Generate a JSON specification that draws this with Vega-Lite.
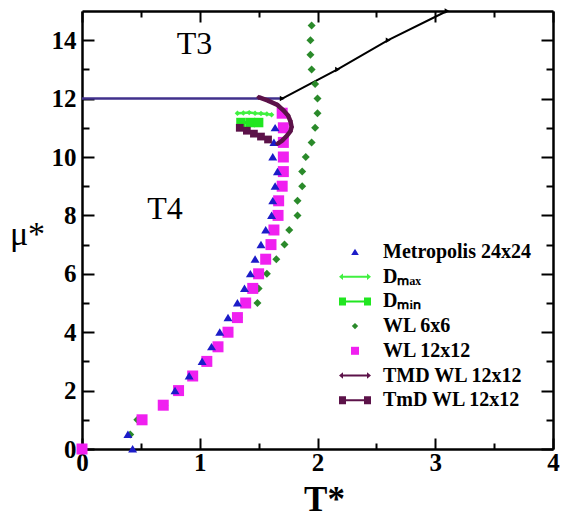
{
  "$schema": "https://vega.github.io/schema/vega-lite/v6.json",
  "width": 471,
  "height": 438,
  "autosize": {"type": "none"},
  "padding": {"left": 82, "top": 11, "right": 8, "bottom": 71},
  "background": "white",
  "config": {
    "view": {"stroke": null},
    "legend": {
      "orient": "none",
      "legendX": 263,
      "legendY": 231,
      "title": null,
      "padding": 0,
      "labelFont": "Liberation Serif",
      "labelFontWeight": "bold",
      "labelFontSize": 20,
      "labelColor": "black",
      "labelOffset": 18,
      "symbolSize": 400,
      "symbolStrokeWidth": 0,
      "symbolOpacity": 1,
      "rowPadding": 4.7,
      "labelLimit": 300
    }
  },
  "datasets": {
    "pts": [
      {"s": "hline", "k": 0, "T": 0, "mu": 12},
      {"s": "hline", "k": 1, "T": 1.71, "mu": 12},
      {"s": "black", "k": 0, "T": 1.70, "mu": 12.0},
      {"s": "black", "k": 1, "T": 2.17, "mu": 13.0},
      {"s": "black", "k": 2, "T": 2.60, "mu": 14.0},
      {"s": "black", "k": 3, "T": 3.10, "mu": 15.0},
      {"s": "Metropolis 24x24", "k": 0, "T": 0.43, "mu": 0},
      {"s": "Metropolis 24x24", "k": 1, "T": 0.39, "mu": 0.5},
      {"s": "Metropolis 24x24", "k": 2, "T": 0.79, "mu": 2.0},
      {"s": "Metropolis 24x24", "k": 3, "T": 0.91, "mu": 2.5},
      {"s": "Metropolis 24x24", "k": 4, "T": 1.02, "mu": 3.0},
      {"s": "Metropolis 24x24", "k": 5, "T": 1.10, "mu": 3.5},
      {"s": "Metropolis 24x24", "k": 6, "T": 1.17, "mu": 4.0},
      {"s": "Metropolis 24x24", "k": 7, "T": 1.24, "mu": 4.5},
      {"s": "Metropolis 24x24", "k": 8, "T": 1.32, "mu": 5.0},
      {"s": "Metropolis 24x24", "k": 9, "T": 1.38, "mu": 5.5},
      {"s": "Metropolis 24x24", "k": 10, "T": 1.43, "mu": 6.0},
      {"s": "Metropolis 24x24", "k": 11, "T": 1.47, "mu": 6.5},
      {"s": "Metropolis 24x24", "k": 12, "T": 1.52, "mu": 7.0},
      {"s": "Metropolis 24x24", "k": 13, "T": 1.56, "mu": 7.5},
      {"s": "Metropolis 24x24", "k": 14, "T": 1.61, "mu": 8.0},
      {"s": "Metropolis 24x24", "k": 15, "T": 1.62, "mu": 8.5},
      {"s": "Metropolis 24x24", "k": 16, "T": 1.64, "mu": 9.0},
      {"s": "Metropolis 24x24", "k": 17, "T": 1.66, "mu": 9.5},
      {"s": "Metropolis 24x24", "k": 18, "T": 1.62, "mu": 10.0},
      {"s": "Metropolis 24x24", "k": 19, "T": 1.63, "mu": 10.5},
      {"s": "Metropolis 24x24", "k": 20, "T": 1.64, "mu": 11.0},
      {"s": "WL 12x12", "k": 0, "T": 0.0, "mu": 0},
      {"s": "WL 12x12", "k": 1, "T": 0.51, "mu": 1.0},
      {"s": "WL 12x12", "k": 2, "T": 0.69, "mu": 1.5},
      {"s": "WL 12x12", "k": 3, "T": 0.82, "mu": 2.0},
      {"s": "WL 12x12", "k": 4, "T": 0.94, "mu": 2.5},
      {"s": "WL 12x12", "k": 5, "T": 1.06, "mu": 3.0},
      {"s": "WL 12x12", "k": 6, "T": 1.155, "mu": 3.5},
      {"s": "WL 12x12", "k": 7, "T": 1.24, "mu": 4.0},
      {"s": "WL 12x12", "k": 8, "T": 1.32, "mu": 4.5},
      {"s": "WL 12x12", "k": 9, "T": 1.39, "mu": 5.0},
      {"s": "WL 12x12", "k": 10, "T": 1.45, "mu": 5.5},
      {"s": "WL 12x12", "k": 11, "T": 1.50, "mu": 6.0},
      {"s": "WL 12x12", "k": 12, "T": 1.56, "mu": 6.5},
      {"s": "WL 12x12", "k": 13, "T": 1.605, "mu": 7.0},
      {"s": "WL 12x12", "k": 14, "T": 1.63, "mu": 7.5},
      {"s": "WL 12x12", "k": 15, "T": 1.665, "mu": 8.0},
      {"s": "WL 12x12", "k": 16, "T": 1.67, "mu": 8.5},
      {"s": "WL 12x12", "k": 17, "T": 1.70, "mu": 9.0},
      {"s": "WL 12x12", "k": 18, "T": 1.71, "mu": 9.5},
      {"s": "WL 12x12", "k": 19, "T": 1.71, "mu": 10.0},
      {"s": "WL 12x12", "k": 20, "T": 1.71, "mu": 10.5},
      {"s": "WL 12x12", "k": 21, "T": 1.71, "mu": 11.0},
      {"s": "WL 12x12", "k": 22, "T": 1.70, "mu": 11.5},
      {"s": "WL 6x6", "k": 0, "T": 0.41, "mu": 0.5},
      {"s": "WL 6x6", "k": 1, "T": 0.47, "mu": 1.0},
      {"s": "WL 6x6", "k": 2, "T": 0.70, "mu": 1.5},
      {"s": "WL 6x6", "k": 3, "T": 0.83, "mu": 2.0},
      {"s": "WL 6x6", "k": 4, "T": 0.95, "mu": 2.5},
      {"s": "WL 6x6", "k": 5, "T": 1.07, "mu": 3.0},
      {"s": "WL 6x6", "k": 6, "T": 1.16, "mu": 3.5},
      {"s": "WL 6x6", "k": 7, "T": 1.25, "mu": 4.0},
      {"s": "WL 6x6", "k": 8, "T": 1.33, "mu": 4.5},
      {"s": "WL 6x6", "k": 9, "T": 1.49, "mu": 5.0},
      {"s": "WL 6x6", "k": 10, "T": 1.50, "mu": 5.5},
      {"s": "WL 6x6", "k": 11, "T": 1.57, "mu": 6.0},
      {"s": "WL 6x6", "k": 12, "T": 1.65, "mu": 6.5},
      {"s": "WL 6x6", "k": 13, "T": 1.72, "mu": 7.0},
      {"s": "WL 6x6", "k": 14, "T": 1.76, "mu": 7.5},
      {"s": "WL 6x6", "k": 15, "T": 1.83, "mu": 8.0},
      {"s": "WL 6x6", "k": 16, "T": 1.83, "mu": 8.5},
      {"s": "WL 6x6", "k": 17, "T": 1.87, "mu": 9.0},
      {"s": "WL 6x6", "k": 18, "T": 1.87, "mu": 9.5},
      {"s": "WL 6x6", "k": 19, "T": 1.90, "mu": 10.0},
      {"s": "WL 6x6", "k": 20, "T": 1.95, "mu": 10.5},
      {"s": "WL 6x6", "k": 21, "T": 1.98, "mu": 11.0},
      {"s": "WL 6x6", "k": 22, "T": 2.00, "mu": 11.5},
      {"s": "WL 6x6", "k": 23, "T": 2.00, "mu": 12.0},
      {"s": "WL 6x6", "k": 24, "T": 1.98, "mu": 12.5},
      {"s": "WL 6x6", "k": 25, "T": 1.95, "mu": 13.0},
      {"s": "WL 6x6", "k": 26, "T": 1.94, "mu": 13.5},
      {"s": "WL 6x6", "k": 27, "T": 1.94, "mu": 14.0},
      {"s": "WL 6x6", "k": 28, "T": 1.95, "mu": 14.5},
      {"s": "Dₘₐₓ", "k": 0, "T": 1.32, "mu": 11.50},
      {"s": "Dₘₐₓ", "k": 1, "T": 1.37, "mu": 11.51},
      {"s": "Dₘₐₓ", "k": 2, "T": 1.42, "mu": 11.52},
      {"s": "Dₘₐₓ", "k": 3, "T": 1.47, "mu": 11.50},
      {"s": "Dₘₐₓ", "k": 4, "T": 1.52, "mu": 11.49},
      {"s": "Dₘₐₓ", "k": 5, "T": 1.57, "mu": 11.47},
      {"s": "Dₘₐₓ", "k": 6, "T": 1.61, "mu": 11.45},
      {"s": "Dₘᵢₙ", "k": 0, "T": 1.35, "mu": 11.18},
      {"s": "Dₘᵢₙ", "k": 1, "T": 1.43, "mu": 11.18},
      {"s": "Dₘᵢₙ", "k": 2, "T": 1.50, "mu": 11.18},
      {"s": "TmD WL 12x12", "k": 0, "T": 1.34, "mu": 11.0},
      {"s": "TmD WL 12x12", "k": 1, "T": 1.40, "mu": 10.9},
      {"s": "TmD WL 12x12", "k": 2, "T": 1.46, "mu": 10.8},
      {"s": "TmD WL 12x12", "k": 3, "T": 1.52, "mu": 10.7},
      {"s": "TmD WL 12x12", "k": 4, "T": 1.58, "mu": 10.6},
      {"s": "TMD WL 12x12", "k": 0, "T": 1.50, "mu": 12.05},
      {"s": "TMD WL 12x12", "k": 1, "T": 1.58, "mu": 11.93},
      {"s": "TMD WL 12x12", "k": 2, "T": 1.66, "mu": 11.78},
      {"s": "TMD WL 12x12", "k": 3, "T": 1.71, "mu": 11.60},
      {"s": "TMD WL 12x12", "k": 4, "T": 1.75, "mu": 11.42},
      {"s": "TMD WL 12x12", "k": 5, "T": 1.77, "mu": 11.23},
      {"s": "TMD WL 12x12", "k": 6, "T": 1.78, "mu": 11.03},
      {"s": "TMD WL 12x12", "k": 7, "T": 1.77, "mu": 10.88},
      {"s": "TMD WL 12x12", "k": 8, "T": 1.74, "mu": 10.73},
      {"s": "TMD WL 12x12", "k": 9, "T": 1.70, "mu": 10.56},
      {"s": "TMD WL 12x12", "k": 10, "T": 1.66, "mu": 10.45}
    ],
    "labels": [
      {"txt": "T3", "T": 0.955, "mu": 13.53},
      {"txt": "T4", "T": 0.705, "mu": 7.88}
    ]
  },
  "data": {"name": "pts"},
  "encoding": {
    "x": {"field": "T", "type": "quantitative", "scale": {"domain": [0, 4], "nice": false, "zero": false}, "axis": null},
    "y": {"field": "mu", "type": "quantitative", "scale": {"domain": [0, 15], "nice": false, "zero": false}, "axis": null}
  },
  "layer": [
    {
      "transform": [{"filter": "datum.s === 'hline'"}],
      "mark": {"type": "line", "color": "#40308c", "strokeWidth": 2.5, "clip": false},
      "encoding": {
        "x": {"field": "T", "type": "quantitative", "scale": {"domain": [0, 4], "nice": false, "zero": false},
          "axis": {"orient": "bottom", "values": [0, 0.5, 1, 1.5, 2, 2.5, 3, 3.5, 4], "grid": false,
            "labelExpr": "datum.value % 1 === 0 ? format(datum.value, 'd') : ''", "labelOverlap": false, "labelFlush": false,
            "tickSize": {"condition": {"test": "datum.value % 1 === 0", "value": -11}, "value": -6},
            "tickColor": "black", "tickWidth": 2, "domainColor": "black", "domainWidth": 2.5,
            "labelFont": "Liberation Serif", "labelFontWeight": "bold", "labelFontSize": 25, "labelColor": "black", "labelPadding": 12,
            "title": "T*", "titleFont": "Liberation Serif", "titleFontWeight": "bold", "titleFontSize": 35, "titleColor": "black",
            "titleX": 242, "titleY": 61, "titleBaseline": "alphabetic", "titleAlign": "center"}},
        "y": {"field": "mu", "type": "quantitative", "scale": {"domain": [0, 15], "nice": false, "zero": false},
          "axis": {"orient": "left", "values": [0, 1, 2, 3, 4, 5, 6, 7, 8, 9, 10, 11, 12, 13, 14], "grid": false,
            "labelExpr": "datum.value % 2 === 0 ? format(datum.value, 'd') : ''", "labelOverlap": false, "labelFlush": false,
            "tickSize": {"condition": {"test": "datum.value % 2 === 0", "value": -12}, "value": -7},
            "tickColor": "black", "tickWidth": 2, "domainColor": "black", "domainWidth": 2.5,
            "labelFont": "Liberation Serif", "labelFontWeight": "bold", "labelFontSize": 25, "labelColor": "black", "labelPadding": 18,
            "title": "μ*", "titleFont": "Liberation Serif", "titleFontWeight": "normal", "titleFontSize": 34, "titleColor": "black",
            "titleAngle": 0, "titleX": -55, "titleY": 233, "titleBaseline": "alphabetic", "titleAlign": "center"}}
      }
    },
    {
      "transform": [{"filter": "datum.s === 'black'"}],
      "mark": {"type": "line", "color": "black", "strokeWidth": 2, "point": {"shape": "triangle-right", "size": 30, "filled": true, "color": "black"}},
      "encoding": {
        "x": {"field": "T", "type": "quantitative", "scale": {"domain": [0, 4], "nice": false, "zero": false},
          "axis": {"orient": "top", "values": [0, 0.5, 1, 1.5, 2, 2.5, 3, 3.5, 4], "grid": false, "labels": false, "title": null,
            "tickSize": {"condition": {"test": "datum.value % 1 === 0", "value": -11}, "value": -6},
            "tickColor": "black", "tickWidth": 2, "domainColor": "black", "domainWidth": 2.5}},
        "y": {"field": "mu", "type": "quantitative", "scale": {"domain": [0, 15], "nice": false, "zero": false},
          "axis": {"orient": "right", "values": [0, 1, 2, 3, 4, 5, 6, 7, 8, 9, 10, 11, 12, 13, 14], "grid": false, "labels": false, "title": null,
            "tickSize": {"condition": {"test": "datum.value % 2 === 0", "value": -12}, "value": -7},
            "tickColor": "black", "tickWidth": 2, "domainColor": "black", "domainWidth": 2.5}}
      }
    },
    {
      "transform": [{"filter": "datum.s === 'WL 6x6'"}],
      "mark": {"type": "point", "filled": true, "opacity": 1, "size": 625, "strokeWidth": 0},
      "encoding": {
        "color": {"field": "s", "type": "nominal",
          "scale": {"domain": ["Metropolis 24x24", "Dₘₐₓ", "Dₘᵢₙ", "WL 6x6", "WL 12x12", "TMD WL 12x12", "TmD WL 12x12"],
            "range": ["#1c1cc8", "#40f040", "#20e620", "#2a8a2a", "#f020f0", "#5c1249", "#5c1249"]}},
        "shape": {"field": "s", "type": "nominal",
          "scale": {"domain": ["Metropolis 24x24", "Dₘₐₓ", "Dₘᵢₙ", "WL 6x6", "WL 12x12", "TMD WL 12x12", "TmD WL 12x12"],
            "range": [
              "M0,-0.33L0.38,0.3L-0.38,0.3Z",
              "M-1.6,0L-1.2,-0.32V-0.1H1.2V-0.32L1.6,0L1.2,0.32V0.1H-1.2V0.32Z",
              "M-1.6,-0.4H-0.9V-0.1H0.9V-0.4H1.6V0.4H0.9V0.1H-0.9V0.4H-1.6Z",
              "M0,-0.32L0.32,0L0,0.32L-0.32,0Z",
              "M-0.4,-0.4H0.4V0.4H-0.4Z",
              "M-1.6,0L-1.2,-0.32V-0.1H1.2V-0.32L1.6,0L1.2,0.32V0.1H-1.2V0.32Z",
              "M-1.6,-0.4H-0.9V-0.1H0.9V-0.4H1.6V0.4H0.9V0.1H-0.9V0.4H-1.6Z"
            ]}}
      }
    },
    {
      "transform": [{"filter": "datum.s === 'WL 12x12'"}],
      "mark": {"type": "point", "filled": true, "opacity": 1, "size": 756, "strokeWidth": 0, "clip": false},
      "encoding": {
        "color": {"field": "s", "type": "nominal"},
        "shape": {"field": "s", "type": "nominal"}
      }
    },
    {
      "transform": [{"filter": "datum.s === 'Metropolis 24x24'"}],
      "mark": {"type": "point", "filled": true, "opacity": 1, "size": 560, "strokeWidth": 0, "clip": false},
      "encoding": {
        "color": {"field": "s", "type": "nominal"},
        "shape": {"field": "s", "type": "nominal"}
      }
    },
    {
      "transform": [{"filter": "datum.s === 'Dₘₐₓ'"}],
      "mark": {"type": "line", "color": "#40f040", "strokeWidth": 2.5, "point": {"shape": "diamond", "size": 30, "filled": true, "color": "#40f040"}}
    },
    {
      "transform": [{"filter": "datum.s === 'Dₘᵢₙ'"}],
      "mark": {"type": "line", "color": "#20e620", "strokeWidth": 3, "point": {"shape": "square", "size": 90, "filled": true, "color": "#20e620"}}
    },
    {
      "transform": [{"filter": "datum.s === 'TmD WL 12x12'"}],
      "mark": {"type": "line", "color": "#5c1249", "strokeWidth": 3.5, "point": {"shape": "square", "size": 60, "filled": true, "color": "#5c1249"}}
    },
    {
      "transform": [{"filter": "datum.s === 'TMD WL 12x12'"}],
      "mark": {"type": "line", "color": "#5c1249", "strokeWidth": 4.5, "point": {"shape": "diamond", "size": 25, "filled": true, "color": "#5c1249"}},
      "encoding": {"order": {"field": "k", "type": "quantitative"}}
    },
    {
      "data": {"name": "labels"},
      "mark": {"type": "text", "font": "Liberation Serif", "fontSize": 32, "color": "black", "align": "center", "baseline": "alphabetic"},
      "encoding": {"text": {"field": "txt", "type": "nominal"}}
    }
  ],
  "resolve": {"axis": {"x": "independent", "y": "independent"}}
}
